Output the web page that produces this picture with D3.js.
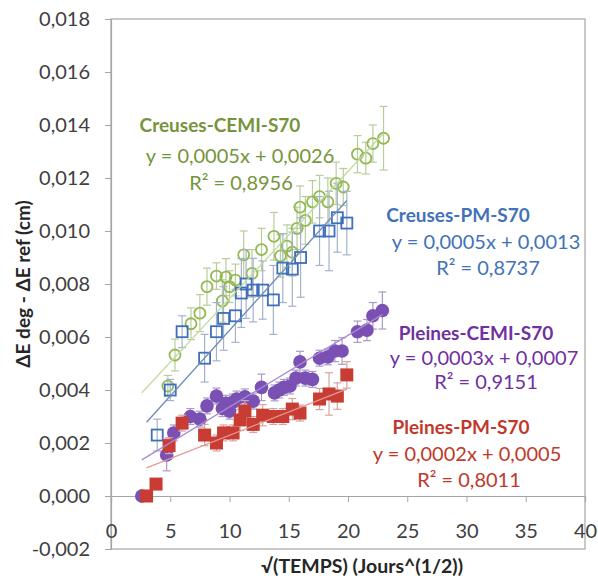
<!DOCTYPE html>
<html><head><meta charset="utf-8">
<script src="https://cdn.jsdelivr.net/npm/d3@7"></script>
<style>body{margin:0;background:#fff}svg{display:block}text{font-family:Lato,"Open Sans",sans-serif}</style>
</head><body><svg id="c" width="598" height="578"></svg>
<script>
// ---- data ----
const seriesNames = ["Creuses-CEMI-S70","Creuses-PM-S70","Pleines-CEMI-S70","Pleines-PM-S70"];
const equations = ["y = 0,0005x + 0,0026","y = 0,0005x + 0,0013","y = 0,0003x + 0,0007","y = 0,0002x + 0,0005"];
const r2Labels = ["R² = 0,8956","R² = 0,8737","R² = 0,9151","R² = 0,8011"];

const greenX = [4.8,5.4,6.75,7.5,8.1,8.9,9.4,9.7,10.0,10.5,11.2,11.9,12.7,13.75,14.3,14.85,15.3,15.7,15.95,16.4,17.0,17.6,18.3,19.0,19.6,20.8,21.5,22.1,23.0];
const greenY = [0.00415,0.00532,0.0065,0.0069,0.0079,0.0083,0.00736,0.00826,0.0079,0.00815,0.0091,0.0084,0.0093,0.0098,0.00906,0.00943,0.0092,0.0101,0.0109,0.0104,0.0111,0.0113,0.0111,0.0118,0.01166,0.0129,0.01275,0.0133,0.0135];
const greenErr = [0.0004,0.0006,0.0006,0.0007,0.0007,0.0005,0.0008,0.0007,0.0006,0.0006,0.0009,0.0009,0.0008,0.0009,0.0008,0.0008,0.0009,0.0008,0.0008,0.0009,0.0008,0.0008,0.0009,0.0008,0.0007,0.0007,0.0006,0.0007,0.0012];

const blueX = [3.9,5.0,6.0,7.9,8.9,9.5,10.5,11.0,11.4,12.0,12.8,13.7,14.5,15.3,16.0,17.6,18.4,19.1,19.9];
const blueY = [0.0023,0.0040,0.0062,0.0052,0.0062,0.0067,0.0068,0.00766,0.0080,0.00777,0.00777,0.0074,0.0086,0.00856,0.0090,0.0100,0.0100,0.0105,0.0103];
const blueErr = [0.0006,0.0004,0.0006,0.0009,0.0011,0.0012,0.001,0.0013,0.0013,0.0012,0.0011,0.0013,0.0013,0.0014,0.0015,0.0013,0.0015,0.0013,0.0012];

const purpleX = [2.6,4.7,5.3,6.7,7.5,8.1,8.9,9.4,9.7,10.0,10.3,10.6,11.3,12.0,12.7,13.8,14.2,14.6,15.1,15.6,15.95,16.4,17.0,17.6,18.3,18.9,19.5,20.8,21.6,22.1,22.9];
const purpleY = [0,0.00155,0.00238,0.0030,0.0029,0.0034,0.00377,0.0033,0.0035,0.0032,0.00355,0.00366,0.00374,0.00358,0.0041,0.00389,0.0040,0.0041,0.00415,0.00445,0.00506,0.00445,0.0044,0.0052,0.00525,0.00547,0.00547,0.0062,0.00626,0.0068,0.0070];
const purpleErr = [0,0.0006,0.0003,0.0003,0.0003,0.0003,0.0003,0.0003,0.0003,0.0003,0.0003,0.0003,0.0003,0.0003,0.0005,0.0003,0.0003,0.0003,0.0003,0.0003,0.0004,0.0003,0.0003,0.0003,0.0003,0.0004,0.0005,0.0004,0.0004,0.0005,0.0007];

const redX = [3.0,3.8,4.9,6.0,7.9,8.9,9.5,10.3,10.9,11.3,12.0,12.8,13.7,14.5,15.3,15.95,17.6,18.4,19.1,19.9];
const redY = [0,0.00045,0.0019,0.00275,0.0023,0.0020,0.00238,0.00238,0.00287,0.0032,0.0027,0.00305,0.0030,0.0030,0.00328,0.00313,0.00366,0.00385,0.00377,0.00457];
const redErr = [0,0.0001,0.0003,0.0003,0.0004,0.0003,0.0003,0.0003,0.0004,0.0004,0.0003,0.0004,0.0003,0.0003,0.0004,0.0003,0.0004,0.0008,0.0005,0.0005];

// trend lines (slope, intercept, x range)
const trendSlope = [0.00048,0.000495,0.00027,0.000176];
const trendIntercept = [0.00265,0.0013,0.00066,0.00053];
const trendStart = [2.6,3.0,2.6,3.0];
const trendEnd = [23.0,19.9,22.9,19.9];

const xTicks = [0,5,10,15,20,25,30,35,40];
const yTicks = [-0.002,0,0.002,0.004,0.006,0.008,0.010,0.012,0.014,0.016,0.018];
const xTitle = "√(TEMPS) (Jours^(1/2))";
const yTitle = "ΔE deg - ΔE ref (cm)";

// ---- styles ----
const markerColor = ["#92BA52","#3F6FBA","#7A50B4","#C83C33"];
const errColor = ["#B9CC9C","#A3B3CB","#AA9BC4","#D9A3A0"];
const trendColor = ["#C3DA9E","#6E8CB8","#A88BD2","#E29A96"];
const textColor = ["#77933C","#4372B8","#7030A0","#C0392B"];
const markerKind = ["openCircle","openSquare","circle","square"];
const labelPos = [
  [[220,124],[240,155],[241,182]],
  [[458,214],[486,241],[488,267]],
  [[476,332],[484,357],[486,381]],
  [[461,426],[467,453],[469,479]]
];

const svg = d3.select("#c");
const x = d3.scaleLinear().domain([0,40]).range([111,585]);
const y = d3.scaleLinear().domain([-0.002,0.018]).range([549,19]);

// plot border
svg.append("rect").attr("x",x(0)).attr("y",y(0.018)).attr("width",x(40)-x(0)).attr("height",y(-0.002)-y(0.018))
  .attr("fill","none").attr("stroke","#A6A6A6").attr("stroke-width",1.2);

// y axis
const yAxis = svg.append("g").attr("transform",`translate(${x(0)},0)`)
  .call(d3.axisLeft(y).tickValues(yTicks).tickSize(6).tickPadding(15)
    .tickFormat(d=>d3.format(".3f")(d).replace(".",",").replace("\u2212","-")));
yAxis.select(".domain").attr("stroke","#A6A6A6").attr("stroke-width",1.2);
yAxis.selectAll(".tick line").attr("stroke","#A6A6A6");
yAxis.selectAll(".tick text").attr("font-size",20).attr("fill","#404040").attr("font-family","Lato");

// x axis at y=0
const xAxis = svg.append("g").attr("transform",`translate(0,${y(0)})`)
  .call(d3.axisBottom(x).tickValues(xTicks).tickSize(6).tickPadding(22).tickFormat(d3.format("d")));
xAxis.select(".domain").attr("stroke","#A6A6A6").attr("stroke-width",1.2);
xAxis.selectAll(".tick line").attr("stroke","#A6A6A6");
xAxis.selectAll(".tick text").attr("font-size",20).attr("fill","#404040").attr("font-family","Lato");

// titles
svg.append("text").attr("x",362).attr("y",565).attr("text-anchor","middle").attr("dominant-baseline","central")
  .attr("font-size",19.5).attr("font-weight","bold").attr("fill","#262626").text(xTitle);
svg.append("text").attr("transform","translate(22,284) rotate(-90)").attr("text-anchor","middle").attr("dominant-baseline","central")
  .attr("font-size",19).attr("font-weight","bold").attr("fill","#262626").text(yTitle);

const series = [
  {xs:greenX,ys:greenY,es:greenErr},
  {xs:blueX,ys:blueY,es:blueErr},
  {xs:purpleX,ys:purpleY,es:purpleErr},
  {xs:redX,ys:redY,es:redErr}
];

series.forEach((s,i)=>{
  const pts = s.xs.map((v,j)=>({x:v,y:s.ys[j],e:s.es[j]}));
  const g = svg.append("g");
  const eb = g.append("g").attr("stroke",errColor[i]).attr("stroke-width",1.2);
  pts.filter(p=>p.e>0).forEach(p=>{
    eb.append("line").attr("x1",x(p.x)).attr("x2",x(p.x)).attr("y1",y(p.y-p.e)).attr("y2",y(p.y+p.e));
    [p.y-p.e,p.y+p.e].forEach(v=>eb.append("line").attr("x1",x(p.x)-4).attr("x2",x(p.x)+4).attr("y1",y(v)).attr("y2",y(v)));
  });
  const k = markerKind[i];
  pts.forEach(p=>{
    if(k==="openCircle") g.append("circle").attr("cx",x(p.x)).attr("cy",y(p.y)).attr("r",5.5)
      .attr("fill","none").attr("stroke",markerColor[i]).attr("stroke-width",1.8);
    else if(k==="circle") g.append("circle").attr("cx",x(p.x)).attr("cy",y(p.y)).attr("r",6.8)
      .attr("fill",markerColor[i]);
    else if(k==="openSquare") g.append("rect").attr("x",x(p.x)-5.5).attr("y",y(p.y)-5.5).attr("width",11).attr("height",11)
      .attr("fill","none").attr("stroke",markerColor[i]).attr("stroke-width",1.8);
    else g.append("rect").attr("x",x(p.x)-6.5).attr("y",y(p.y)-6.5).attr("width",13).attr("height",13)
      .attr("fill",markerColor[i]);
  });
});

// trend lines
seriesNames.forEach((n,i)=>{
  svg.append("line")
    .attr("x1",x(trendStart[i])).attr("y1",y(trendSlope[i]*trendStart[i]+trendIntercept[i]))
    .attr("x2",x(trendEnd[i])).attr("y2",y(trendSlope[i]*trendEnd[i]+trendIntercept[i]))
    .attr("stroke",trendColor[i]).attr("stroke-width",1.3);
});

// labels
seriesNames.forEach((n,i)=>{
  const lines = [n,equations[i],r2Labels[i]];
  lines.forEach((t,j)=>{
    svg.append("text").attr("x",labelPos[i][j][0]).attr("y",labelPos[i][j][1])
      .attr("text-anchor","middle").attr("dominant-baseline","central")
      .attr("font-size",j===0?19:20).attr("font-weight",j===0?"bold":"normal")
      .attr("fill",textColor[i]).text(t);
  });
});
</script></body></html>
